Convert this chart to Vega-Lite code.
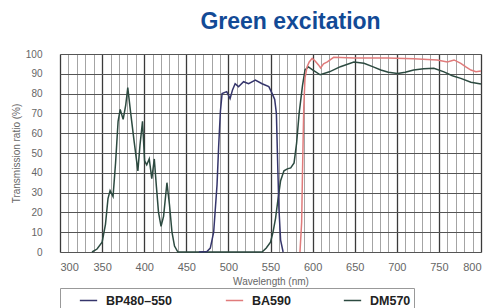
{
  "$schema": "https://vega.github.io/schema/vega-lite/v6.json",
  "width": 421,
  "height": 198,
  "autosize": "none",
  "padding": {"left": 60, "top": 54, "right": 12, "bottom": 56},
  "background": "white",
  "title": {
    "text": "Green excitation",
    "font": "Liberation Sans",
    "fontSize": 23,
    "fontWeight": "bold",
    "color": "#124a96",
    "anchor": "middle",
    "frame": "group",
    "offset": 15,
    "dx": 20
  },
  "config": {
    "view": {"stroke": null},
    "axis": {"labelFont": "Liberation Sans", "titleFont": "Liberation Sans", "labelColor": "#666", "titleColor": "#666"}
  },
  "data": {
    "values": [
      {"s": "DM570", "x": 338, "y": 0}, {"s": "DM570", "x": 344, "y": 1.5}, {"s": "DM570", "x": 350, "y": 5}, {"s": "DM570", "x": 354, "y": 14}, {"s": "DM570", "x": 357, "y": 27}, {"s": "DM570", "x": 359.5, "y": 31}, {"s": "DM570", "x": 363, "y": 28}, {"s": "DM570", "x": 366, "y": 45}, {"s": "DM570", "x": 369, "y": 66}, {"s": "DM570", "x": 371.5, "y": 72}, {"s": "DM570", "x": 375, "y": 67}, {"s": "DM570", "x": 378, "y": 74}, {"s": "DM570", "x": 380.5, "y": 83}, {"s": "DM570", "x": 384, "y": 70}, {"s": "DM570", "x": 388, "y": 56}, {"s": "DM570", "x": 392.5, "y": 41}, {"s": "DM570", "x": 395, "y": 54}, {"s": "DM570", "x": 398, "y": 66}, {"s": "DM570", "x": 400.5, "y": 46}, {"s": "DM570", "x": 403, "y": 44}, {"s": "DM570", "x": 406, "y": 47}, {"s": "DM570", "x": 409, "y": 37}, {"s": "DM570", "x": 412, "y": 47}, {"s": "DM570", "x": 414.5, "y": 33}, {"s": "DM570", "x": 417, "y": 20}, {"s": "DM570", "x": 420, "y": 13}, {"s": "DM570", "x": 423, "y": 18}, {"s": "DM570", "x": 427, "y": 35}, {"s": "DM570", "x": 430, "y": 24}, {"s": "DM570", "x": 433, "y": 10}, {"s": "DM570", "x": 436, "y": 3}, {"s": "DM570", "x": 440, "y": 0},
      {"s": "DM570", "x": 540, "y": 0}, {"s": "DM570", "x": 545, "y": 2}, {"s": "DM570", "x": 550, "y": 5}, {"s": "DM570", "x": 553, "y": 10}, {"s": "DM570", "x": 556, "y": 17}, {"s": "DM570", "x": 559, "y": 27}, {"s": "DM570", "x": 562, "y": 36}, {"s": "DM570", "x": 566, "y": 41}, {"s": "DM570", "x": 570, "y": 42}, {"s": "DM570", "x": 574, "y": 42.5}, {"s": "DM570", "x": 578, "y": 45}, {"s": "DM570", "x": 581, "y": 55}, {"s": "DM570", "x": 584, "y": 70}, {"s": "DM570", "x": 588, "y": 84}, {"s": "DM570", "x": 591, "y": 92}, {"s": "DM570", "x": 595, "y": 93.5}, {"s": "DM570", "x": 600, "y": 92}, {"s": "DM570", "x": 609, "y": 89.5}, {"s": "DM570", "x": 620, "y": 91}, {"s": "DM570", "x": 633, "y": 93.6}, {"s": "DM570", "x": 649, "y": 96}, {"s": "DM570", "x": 661, "y": 95.3}, {"s": "DM570", "x": 672, "y": 93.5}, {"s": "DM570", "x": 681, "y": 91.9}, {"s": "DM570", "x": 690, "y": 90.8}, {"s": "DM570", "x": 701, "y": 90.2}, {"s": "DM570", "x": 710, "y": 90.8}, {"s": "DM570", "x": 720, "y": 91.9}, {"s": "DM570", "x": 732, "y": 92.5}, {"s": "DM570", "x": 744, "y": 92.8}, {"s": "DM570", "x": 756, "y": 91}, {"s": "DM570", "x": 766, "y": 89}, {"s": "DM570", "x": 776, "y": 87.7}, {"s": "DM570", "x": 788, "y": 85.7}, {"s": "DM570", "x": 800, "y": 84.8},
      {"s": "BP480–550", "x": 465, "y": 0}, {"s": "BP480–550", "x": 474.5, "y": 0.3}, {"s": "BP480–550", "x": 478.5, "y": 2}, {"s": "BP480–550", "x": 482.5, "y": 10}, {"s": "BP480–550", "x": 486.5, "y": 34}, {"s": "BP480–550", "x": 488.5, "y": 54}, {"s": "BP480–550", "x": 490.5, "y": 71}, {"s": "BP480–550", "x": 492.5, "y": 80}, {"s": "BP480–550", "x": 498, "y": 81}, {"s": "BP480–550", "x": 502, "y": 77.5}, {"s": "BP480–550", "x": 505, "y": 82}, {"s": "BP480–550", "x": 508, "y": 85}, {"s": "BP480–550", "x": 512, "y": 83.5}, {"s": "BP480–550", "x": 518, "y": 86}, {"s": "BP480–550", "x": 524, "y": 85}, {"s": "BP480–550", "x": 532, "y": 86.8}, {"s": "BP480–550", "x": 540, "y": 85}, {"s": "BP480–550", "x": 548, "y": 83.5}, {"s": "BP480–550", "x": 552, "y": 80}, {"s": "BP480–550", "x": 555, "y": 77}, {"s": "BP480–550", "x": 557, "y": 70}, {"s": "BP480–550", "x": 558.5, "y": 45}, {"s": "BP480–550", "x": 560, "y": 22}, {"s": "BP480–550", "x": 562, "y": 6}, {"s": "BP480–550", "x": 565, "y": 0},
      {"s": "BA590", "x": 585, "y": 0}, {"s": "BA590", "x": 587, "y": 15}, {"s": "BA590", "x": 588, "y": 40}, {"s": "BA590", "x": 589.5, "y": 73}, {"s": "BA590", "x": 591, "y": 88}, {"s": "BA590", "x": 593.5, "y": 93.6}, {"s": "BA590", "x": 596, "y": 96}, {"s": "BA590", "x": 599.5, "y": 97.8}, {"s": "BA590", "x": 603, "y": 96.5}, {"s": "BA590", "x": 607, "y": 94.5}, {"s": "BA590", "x": 609.5, "y": 93}, {"s": "BA590", "x": 613, "y": 95}, {"s": "BA590", "x": 617.5, "y": 96}, {"s": "BA590", "x": 625, "y": 98.3}, {"s": "BA590", "x": 649, "y": 98}, {"s": "BA590", "x": 689, "y": 98}, {"s": "BA590", "x": 720, "y": 97.6}, {"s": "BA590", "x": 748, "y": 97}, {"s": "BA590", "x": 760, "y": 96}, {"s": "BA590", "x": 768, "y": 97}, {"s": "BA590", "x": 776, "y": 95.3}, {"s": "BA590", "x": 782, "y": 93.5}, {"s": "BA590", "x": 788, "y": 91.9}, {"s": "BA590", "x": 794, "y": 91}, {"s": "BA590", "x": 800, "y": 91.4}
    ]
  },
  "layer": [
    {
      "mark": {"type": "line", "strokeOpacity": 0},
      "encoding": {
        "x": {"field": "x", "type": "quantitative", "scale": {"domain": [300, 800], "nice": false, "zero": false},
          "axis": {"orient": "bottom", "values": [300,310,320,330,340,350,360,370,380,390,400,410,420,430,440,450,460,470,480,490,500,510,520,530,540,550,560,570,580,590,600,610,620,630,640,650,660,670,680,690,700,710,720,730,740,750,760,770,780,790,800],
            "labels": false, "ticks": false, "domain": false, "title": null, "grid": true, "gridColor": "#9a9a9a", "gridWidth": 0.9}},
        "y": {"field": "y", "type": "quantitative", "scale": {"domain": [0, 100], "nice": false},
          "axis": {"values": [0,10,20,30,40,50,60,70,80,90,100], "title": "Transmission ratio (%)", "titleFontSize": 10, "titleFontWeight": "normal", "titlePadding": 4, "labelFontSize": 10, "labelPadding": 18, "ticks": false, "domain": false, "grid": true, "gridColor": "#555", "gridWidth": 1.1}},
        "detail": {"field": "s"}
      }
    },
    {
      "mark": {"type": "line", "strokeWidth": 1.5},
      "encoding": {
        "x": {"field": "x", "type": "quantitative", "scale": {"domain": [300, 800], "nice": false, "zero": false},
          "axis": {"orient": "bottom", "values": [300,350,400,450,500,550,600,650,700,750,800], "title": "Wavelength (nm)", "titleFontSize": 10, "titleFontWeight": "normal", "titlePadding": 4, "labelFontSize": 11, "labelPadding": 9, "ticks": false, "domain": false, "grid": true, "gridColor": "#3a3a3a", "gridWidth": 1.3}},
        "y": {"field": "y", "type": "quantitative", "scale": {"domain": [0, 100], "nice": false},
          "axis": {"values": [0,10,20,30,40,50,60,70,80,90,100], "title": "Transmission ratio (%)", "titleFontSize": 10, "titleFontWeight": "normal", "titlePadding": 4, "labelFontSize": 10, "labelPadding": 18, "ticks": false, "domain": false, "grid": true, "gridColor": "#555", "gridWidth": 1.1}},
        "color": {"field": "s", "type": "nominal",
          "scale": {"domain": ["BP480–550", "BA590", "DM570"], "range": ["#35356b", "#e07b7b", "#2c4a40"]},
          "legend": {"title": null, "orient": "none", "legendX": 0, "legendY": 234, "direction": "horizontal",
            "symbolType": "stroke", "symbolSize": 300, "symbolStrokeWidth": 1.5, "symbolOffset": 16,
            "labelFont": "Liberation Sans", "labelFontSize": 12.5, "labelFontWeight": "bold", "labelColor": "#222", "labelOffset": 8,
            "columnPadding": 36, "padding": 3, "strokeColor": "#999", "fillColor": "white"}
        }
      }
    }
  ],
  "resolve": {"axis": {"x": "independent"}}
}
